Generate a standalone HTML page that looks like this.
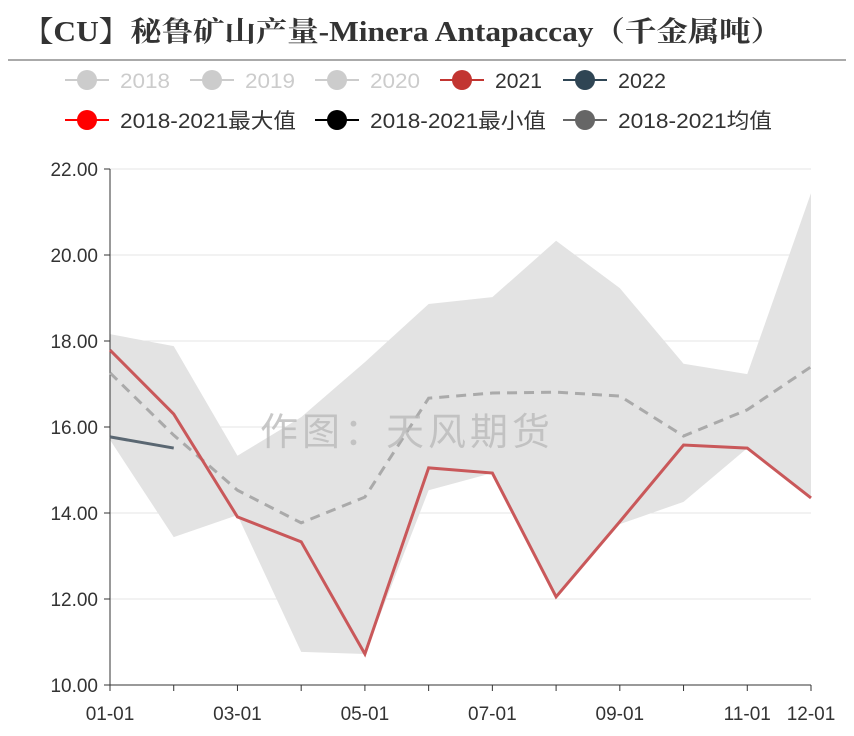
<!DOCTYPE html>
<html><head><meta charset="utf-8"><style>
body{margin:0;background:#fff;}
svg text{font-family:"Liberation Sans","Noto Sans CJK SC",sans-serif;}
</style></head><body>
<svg id="c" width="854" height="731" xmlns="http://www.w3.org/2000/svg">
<text x="22" y="41" font-size="28" font-weight="bold" fill="#333" textLength="760" lengthAdjust="spacingAndGlyphs" style="font-family:'Liberation Serif','Noto Serif CJK SC',serif">【CU】秘鲁矿山产量-Minera Antapaccay（千金属吨）</text>
<line x1="8" y1="60" x2="846" y2="60" stroke="#aaa" stroke-width="2"/>
<g id="legend"></g>
<g id="plot"></g>
<text x="405" y="445" font-size="38" fill="#bbb" text-anchor="middle" opacity="0.8" textLength="290">作图：天风期货</text>
</svg>
<script>
const months=["01-01","02-01","03-01","04-01","05-01","06-01","07-01","08-01","09-01","10-01","11-01","12-01"];
const tickLabels=["01-01","03-01","05-01","07-01","09-01","11-01","12-01"];
const yTicks=[10,12,14,16,18,20,22];
const maxVals=[18.16,17.88,15.33,16.23,17.51,18.86,19.02,20.33,19.23,17.47,17.23,21.44];
const minVals=[15.7,13.44,13.95,10.77,10.72,14.53,14.93,12.05,13.74,14.26,15.51,14.35];
const meanVals=[17.26,15.81,14.53,13.77,14.37,16.67,16.79,16.81,16.72,15.79,16.40,17.40];
const s2021=[17.79,16.30,13.91,13.33,10.72,15.05,14.93,12.05,13.8,15.58,15.51,14.35];
const s2022=[15.77,15.51];
const legendItems=[["2018","#ccc","#ccc"],["2019","#ccc","#ccc"],["2020","#ccc","#ccc"],["2021","#c23531","#333"],["2022","#2f4554","#333"],["2018-2021最大值","#ff0000","#333"],["2018-2021最小值","#000","#333"],["2018-2021均值","#666","#333"]];
const NS="http://www.w3.org/2000/svg";
const x=i=>110+i*(811-110)/11;
const y=v=>685-(v-10)*(685-169)/12;
const plot=document.getElementById('plot');
function mk(t,a,p){const e=document.createElementNS(NS,t);for(const k in a)e.setAttribute(k,a[k]);(p||plot).appendChild(e);return e;}
yTicks.forEach(v=>{
 const g=mk('line',{x1:110,x2:811,y1:y(v),y2:y(v),stroke:'#e6e6e6'});
 
 
 const t=mk('text',{x:98,y:y(v)+7,'font-size':19,'text-anchor':'end',fill:'#333'});
 t.textContent=v.toFixed(2);
 
 
 mk('line',{x1:104,x2:110,y1:y(v),y2:y(v),stroke:'#333'});
});
let d='M'+maxVals.map((v,i)=>x(i)+','+y(v)).join('L')+'L'+minVals.map((v,i)=>x(i)+','+y(v)).reverse().join('L')+'Z';
const band=mk('path',{d:d,fill:'#e3e3e3'});


const ax=mk('line',{x1:110,x2:110,y1:169,y2:685,stroke:'#333'});


const bx=mk('line',{x1:110,x2:811,y1:685,y2:685,stroke:'#333'});


months.forEach((m,i)=>{
 mk('line',{x1:x(i),x2:x(i),y1:685,y2:691,stroke:'#333'});
 if(tickLabels.includes(m)){
  const t=mk('text',{x:x(i),y:720,'font-size':19,'text-anchor':'middle',fill:'#333'});
  t.textContent=m;
  
  
 }
});
const pts=a=>a.map((v,i)=>x(i)+','+y(v)).join(' ');
const mean=mk('polyline',{points:pts(meanVals),fill:'none',stroke:'#aaa','stroke-width':3,'stroke-dasharray':'10,7'});


const l21=mk('polyline',{points:pts(s2021),fill:'none',stroke:'#c9585a','stroke-width':3});


const l22=mk('polyline',{points:pts(s2022),fill:'none',stroke:'#5a6772','stroke-width':3});


const lg=document.getElementById('legend');
const pos=[[65,80],[190,80],[315,80],[440,80],[563,80],[65,120],[315,120],[563,120]];
const tl=[50,50,50,47,48,176,176,154];
legendItems.forEach((it,i)=>{
 const [lx,ly]=pos[i];
 const g=mk('g',{},lg);
 
 
 mk('line',{x1:lx,x2:lx+44,y1:ly,y2:ly,stroke:it[1],'stroke-width':2},g);
 mk('circle',{cx:lx+22,cy:ly,r:10,fill:it[1]},g);
 const t=mk('text',{x:lx+55,y:ly+8,'font-size':21,fill:it[2],textLength:tl[i],lengthAdjust:'spacingAndGlyphs'},g);
 t.textContent=it[0];
});
</script>
</body></html>
